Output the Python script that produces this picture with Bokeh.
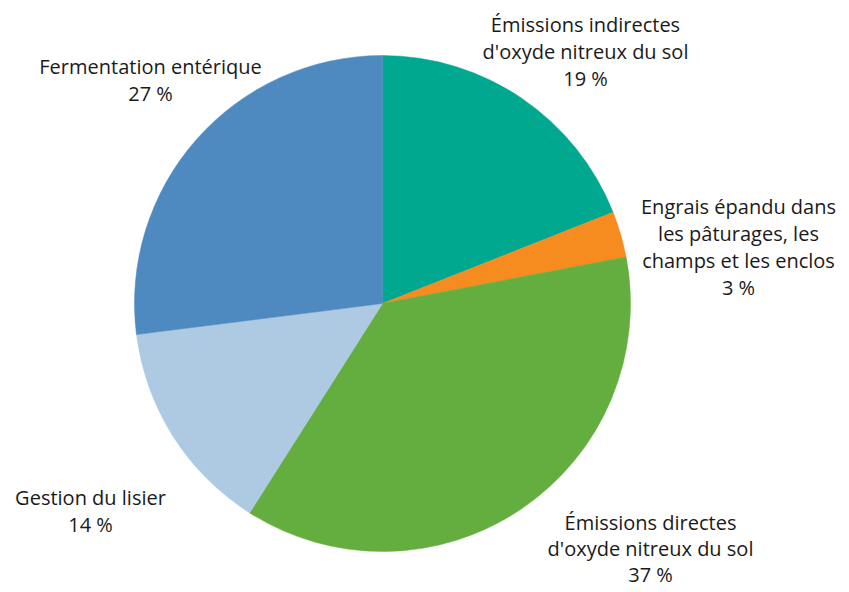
import numpy as np
from bokeh.plotting import figure
from bokeh.models import ColumnDataSource, Range1d
from bokeh.core.properties import value
from bokeh.embed import file_html
from bokeh.resources import INLINE

# Data
categories = [
    "Émissions indirectes\nd'oxyde nitreux du sol",
    "Engrais épandu dans\nles pâturages, les\nchamps et les enclos",
    "Émissions directes\nd'oxyde nitreux du sol",
    "Gestion du lisier",
    "Fermentation entérique",
]
shares = [19, 3, 37, 14, 27]
colors = ["#00A88F", "#F68B1F", "#64AE3F", "#AEC9E2", "#4E8ABF"]

# Layout (pixel coordinates, y measured from top)
W, H = 849, 592
cx, cy, r = 382, 303, 248
label_pos = [(585, 24), (738, 206), (650, 522), (90, 497), (150, 66)]
line_gap = 27

p = figure(width=W, height=H, output_backend="svg", toolbar_location=None,
           x_range=Range1d(0, W), y_range=Range1d(0, H), min_border=0)
p.axis.visible = False
p.grid.visible = False
p.outline_line_color = None

vals = np.array(shares, dtype=float)
frac = vals / vals.sum()
cum = np.concatenate([[0], np.cumsum(frac)])
start = np.pi / 2 - cum[:-1] * 2 * np.pi
end = np.pi / 2 - cum[1:] * 2 * np.pi

src = ColumnDataSource(dict(start=start, end=end, color=colors))
p.wedge(x=cx, y=H - cy, radius=r, start_angle="start", end_angle="end",
        direction="clock", fill_color="color", line_color="color", line_width=0.5,
        source=src)

tx, ty, tt = [], [], []
for cat, s, (lx, ly) in zip(categories, shares, label_pos):
    lines = cat.split("\n") + [f"{s} %"]
    gap = line_gap - 1 if ly > 500 and len(lines) == 3 and lx > 600 else line_gap
    for i, ln in enumerate(lines):
        tx.append(lx)
        ty.append(H - (ly + i * gap))
        tt.append(ln)

p.text(x=tx, y=ty, text=tt, text_align="center", text_baseline="middle",
       text_font=value("Open Sans"), text_font_size="20px", text_color="#1a1a1a")

open("out.html", "w").write(file_html(p, INLINE))
